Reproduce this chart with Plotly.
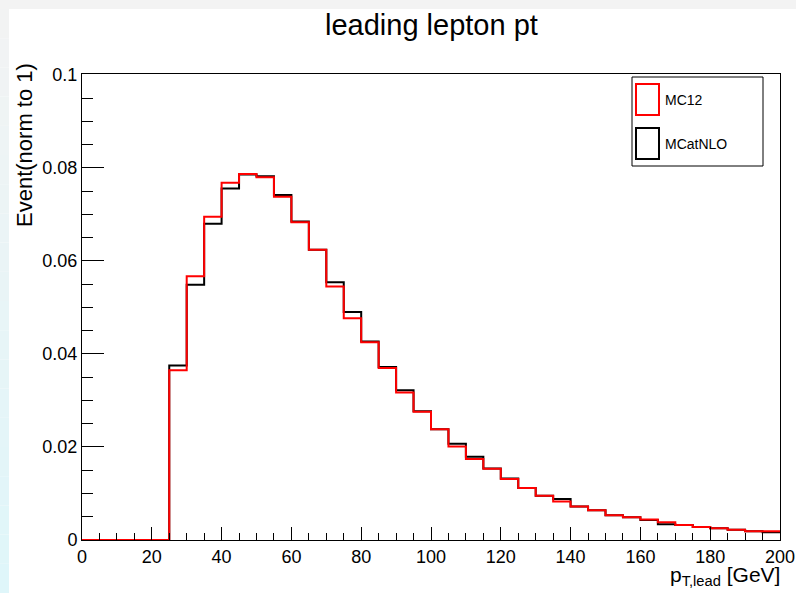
import plotly.graph_objects as go

# ---- data ----
bin_edges = list(range(0, 205, 5))  # 0..200, width 5

mc12 = [0, 0, 0, 0, 0,
        0.0365, 0.0567, 0.0695, 0.0768, 0.0787, 0.0780, 0.0738, 0.0683, 0.0624, 0.0545,
        0.0477, 0.0425, 0.0370, 0.0317, 0.0276, 0.0238, 0.0201, 0.0174, 0.0153, 0.0131,
        0.0112, 0.0095, 0.0083, 0.0072, 0.0064, 0.0053, 0.0049, 0.0044, 0.0038, 0.0032,
        0.0028, 0.0025, 0.0022, 0.0019, 0.0019]

mcatnlo = [0, 0, 0, 0, 0,
           0.0375, 0.0549, 0.0680, 0.0756, 0.0786, 0.0782, 0.0742, 0.0685, 0.0624, 0.0554,
           0.0490, 0.0427, 0.0372, 0.0322, 0.0277, 0.0238, 0.0207, 0.0179, 0.0154, 0.0132,
           0.0112, 0.0095, 0.0088, 0.0072, 0.0064, 0.0053, 0.0049, 0.0043, 0.0034, 0.0032,
           0.0028, 0.0025, 0.0022, 0.0019, 0.00165]

series_names = ["MC12", "MCatNLO"]
series_colors = ["#ff0000", "#000000"]

W, H = 796, 593
L, R, T, B = 82, 780, 74, 540
FONT = "Liberation Sans, Arial, Helvetica, sans-serif"


def px2x(p):
    return (p - L) / (R - L)


def px2y(q):
    return (B - q) / (B - T)


def step(vals):
    return bin_edges, list(vals) + [vals[-1]]


fig = go.Figure()
for name, vals, col in [("MCatNLO", mcatnlo, "#000000"), ("MC12", mc12, "#ff0000")]:
    xs, ys = step(vals)
    fig.add_trace(go.Scatter(x=xs, y=ys, mode="lines", line=dict(color=col, width=2, shape="hv"),
                             name=name, showlegend=False, hoverinfo="skip"))

shapes = []
# window border strips
shapes.append(dict(type="rect", xref="paper", yref="paper", x0=px2x(0), x1=px2x(W), y0=px2y(9), y1=px2y(0),
                   fillcolor="#f3f3f3", line=dict(width=0), layer="below"))
nseg = 20
for i in range(nseg):
    q0 = 9 + (H - 9) * i / nseg
    q1 = 9 + (H - 9) * (i + 1) / nseg
    t = (i + 0.5) / nseg
    c0 = (243, 243, 243)
    c1 = (222, 246, 250)
    c = tuple(int(round(a + (b - a) * t)) for a, b in zip(c0, c1))
    shapes.append(dict(type="rect", xref="paper", yref="paper", x0=px2x(0), x1=px2x(9), y0=px2y(q1), y1=px2y(q0),
                       fillcolor="rgb(%d,%d,%d)" % c, line=dict(width=0), layer="below"))

# legend box
shapes.append(dict(type="rect", xref="paper", yref="paper", x0=px2x(632), x1=px2x(763), y0=px2y(166), y1=px2y(77),
                   fillcolor="white", line=dict(color="black", width=1)))
shapes.append(dict(type="rect", xref="paper", yref="paper", x0=px2x(636), x1=px2x(659), y0=px2y(115), y1=px2y(84),
                   line=dict(color=series_colors[0], width=2)))
shapes.append(dict(type="rect", xref="paper", yref="paper", x0=px2x(636), x1=px2x(659), y0=px2y(159), y1=px2y(128),
                   line=dict(color=series_colors[1], width=2)))

annotations = [
    dict(text=series_names[0], xref="paper", yref="paper", x=px2x(663), y=px2y(100), xanchor="left", yanchor="middle",
         showarrow=False, font=dict(family=FONT, size=14, color="black")),
    dict(text=series_names[1], xref="paper", yref="paper", x=px2x(663), y=px2y(144), xanchor="left", yanchor="middle",
         showarrow=False, font=dict(family=FONT, size=14, color="black")),
    dict(text="leading lepton pt", xref="paper", yref="paper", x=0.5, y=px2y(25), xanchor="center", yanchor="middle",
         showarrow=False, font=dict(family=FONT, size=29, color="black")),
    dict(text="Event(norm to 1)", xref="paper", yref="paper", x=px2x(24), y=px2y(61), xanchor="center", yanchor="top",
         textangle=-90, showarrow=False, font=dict(family=FONT, size=22, color="black")),
    dict(text="p<sub>T,lead</sub> [GeV]", xref="paper", yref="paper", x=px2x(782), y=px2y(576), xanchor="right",
         yanchor="middle", showarrow=False, font=dict(family=FONT, size=21, color="black")),
]

fig.update_layout(
    width=W, height=H,
    margin=dict(l=L, r=W - R, t=T, b=H - B, pad=0, autoexpand=False),
    paper_bgcolor="white", plot_bgcolor="white",
    showlegend=False,
    shapes=shapes, annotations=annotations,
    xaxis=dict(range=[0, 200], showgrid=False, zeroline=False, showline=True, linecolor="black", linewidth=1,
               mirror=True, ticks="inside", ticklen=13, tickwidth=1, tickcolor="black", dtick=20, tick0=0,
               automargin=False,
               minor=dict(ticks="inside", ticklen=7, dtick=5, tickcolor="black", tickwidth=1, showgrid=False),
               tickfont=dict(family=FONT, size=18, color="black")),
    yaxis=dict(range=[0, 0.1002], showgrid=False, zeroline=False, showline=True, linecolor="black", linewidth=1,
               mirror=True, ticks="inside", ticklen=22, tickwidth=1, tickcolor="black", automargin=False,
               tickvals=[0, 0.02, 0.04, 0.06, 0.08, 0.1], ticktext=["0", "0.02", "0.04", "0.06", "0.08", "0.1"],
               minor=dict(ticks="inside", ticklen=11, dtick=0.005, tickcolor="black", tickwidth=1, showgrid=False),
               tickfont=dict(family=FONT, size=18, color="black")),
)

fig.write_html("out.html")
